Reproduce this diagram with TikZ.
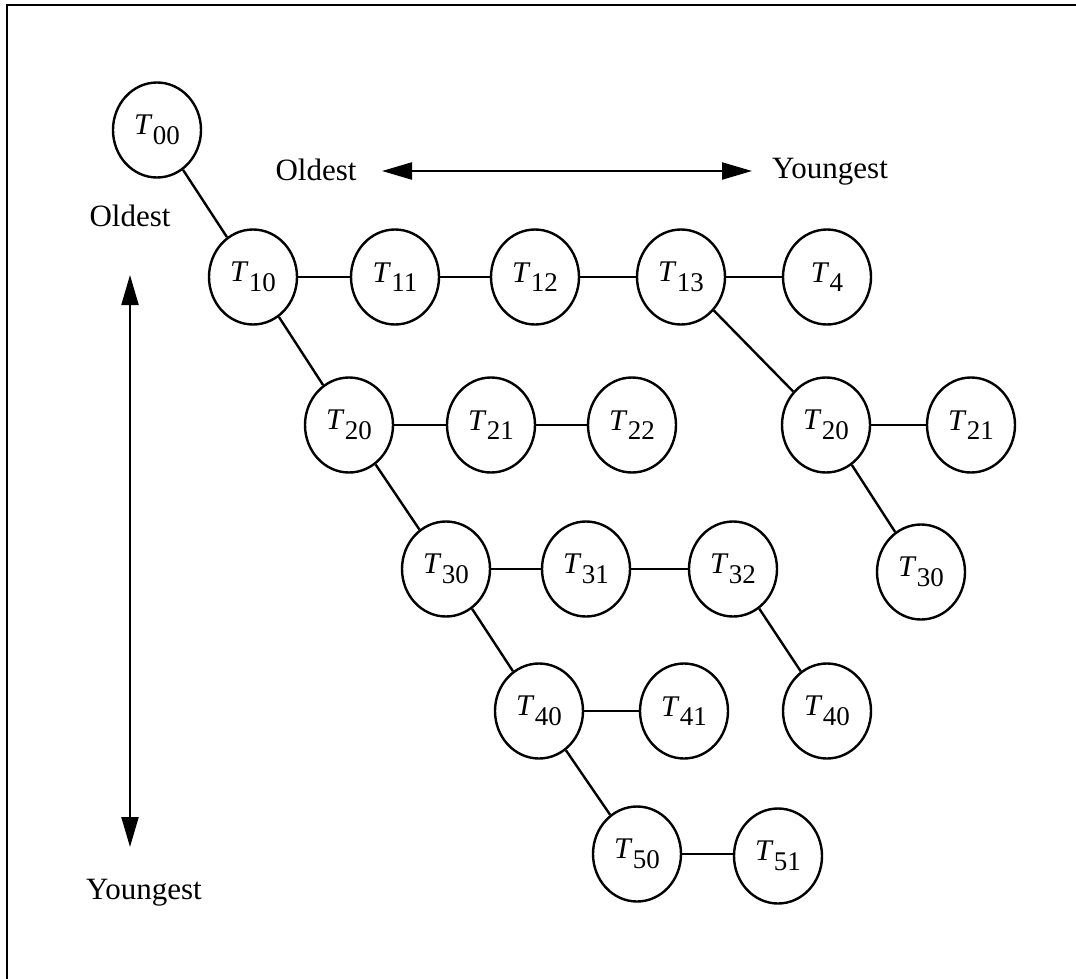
\documentclass[tikz,border=0pt]{standalone}
\usepackage{fontspec}
\setmainfont{Liberation Serif}
\usetikzlibrary{shapes.geometric,arrows.meta}
% italic T with a lowered index
\newcommand{\tsub}[1]{\textit{T}\kern0.2pt\raisebox{-4.8pt}{\fontsize{13.5}{14}\selectfont #1}}
\begin{document}
\begin{tikzpicture}[x=0.5pt,y=-0.5pt,
  tnode/.style={draw, line width=1.2pt, ellipse, minimum width=44pt, minimum height=47.5pt,
                inner sep=0pt, font=\fontsize{15}{16}\selectfont},
  link/.style={line width=1.2pt},
  axis/.style={line width=1.1pt, {Triangle[length=15pt,width=8.5pt]}-{Triangle[length=15pt,width=8.5pt]}},
  lbl/.style={font=\fontsize{15.5}{16}\selectfont, inner sep=0pt}]
\useasboundingbox (0,0) rectangle (1076,979);

% frame edges
\draw[line width=1.3pt] (7,979) -- (7,5) -- (1076,5);

% age axes
\node[lbl] (oldH) at (316,170) {Oldest};
\node[lbl] (youngH) at (830,172) {Youngest};
\node[lbl] (oldV) at (130,216) {Oldest};
\node[lbl] (youngV) at (144,893) {Youngest};
\coordinate (hL) at (382,171);
\coordinate (hR) at (752,171);
\coordinate (vT) at (130,275);
\coordinate (vB) at (130,847);
\draw[axis] (hL) -- (hR);
\draw[axis] (vT) -- (vB);

% tree nodes
\node[tnode] (t00) at (157,130) {\tsub{00}};

\node[tnode] (t10) at (253,277) {\tsub{10}};
\node[tnode] (t11) at (395,277) {\tsub{11}};
\node[tnode] (t12) at (535,277) {\tsub{12}};
\node[tnode] (t13) at (681,277) {\tsub{13}};
\node[tnode] (t4)  at (827,277) {\tsub{4}};

\node[tnode] (t20) at (349,425) {\tsub{20}};
\node[tnode] (t21) at (491,425) {\tsub{21}};
\node[tnode] (t22) at (632,425) {\tsub{22}};
\node[tnode] (u20) at (826,425) {\tsub{20}};
\node[tnode] (u21) at (971,425) {\tsub{21}};

\node[tnode] (t30) at (446,569) {\tsub{30}};
\node[tnode] (t31) at (586,569) {\tsub{31}};
\node[tnode] (t32) at (733,569) {\tsub{32}};
\node[tnode] (u30) at (921,572) {\tsub{30}};

\node[tnode] (t40) at (539,711) {\tsub{40}};
\node[tnode] (t41) at (684,711) {\tsub{41}};
\node[tnode] (u40) at (827,711) {\tsub{40}};

\node[tnode] (t50) at (637,854) {\tsub{50}};
\node[tnode] (t51) at (778,856) {\tsub{51}};

% connections
\draw[link] (t00) -- (t10);
\draw[link] (t10) -- (t11);
\draw[link] (t11) -- (t12);
\draw[link] (t12) -- (t13);
\draw[link] (t13) -- (t4);
\draw[link] (t10) -- (t20);
\draw[link] (t20) -- (t21);
\draw[link] (t21) -- (t22);
\draw[link] (t13) -- (u20);
\draw[link] (u20) -- (u21);
\draw[link] (u20) -- (u30);
\draw[link] (t20) -- (t30);
\draw[link] (t30) -- (t31);
\draw[link] (t31) -- (t32);
\draw[link] (t32) -- (u40);
\draw[link] (t30) -- (t40);
\draw[link] (t40) -- (t41);
\draw[link] (t40) -- (t50);
\draw[link] (t50.east) -- (t50.east -| t51.west);
\end{tikzpicture}
\end{document}
